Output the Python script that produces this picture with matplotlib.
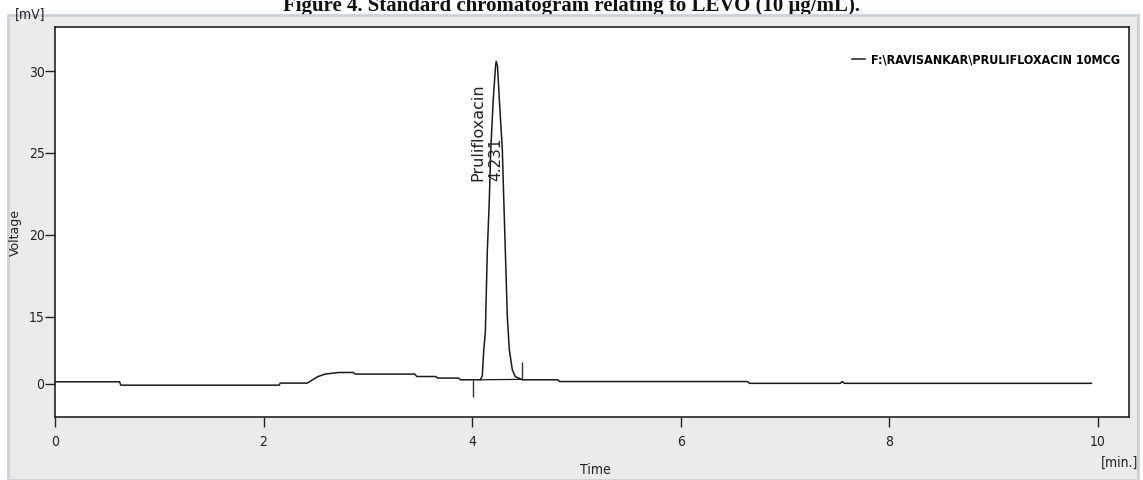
import numpy as np
import matplotlib
matplotlib.use('Agg')
import matplotlib.pyplot as plt
from matplotlib.patches import Rectangle

# detector trace: retention time (min) vs. signal (mV)
time_min = [0.00, 0.62, 0.63, 2.15, 2.16, 2.42, 2.47, 2.52, 2.59, 2.72,
            2.86, 2.88, 3.45, 3.47, 3.65, 3.67, 3.87, 3.89,
            4.079, 4.098, 4.112, 4.127, 4.146, 4.165, 4.179, 4.203, 4.225,
            4.231,
            4.244, 4.261, 4.290, 4.304, 4.319, 4.338, 4.357, 4.386, 4.415,
            4.463, 4.48, 4.82, 4.84, 6.64, 6.66, 7.53, 7.55, 7.57, 9.94]
signal_mv = [0.45, 0.45, -0.30, -0.30, 0.16, 0.16, 0.90, 1.60, 2.17, 2.53,
             2.53, 2.17, 2.17, 1.63, 1.63, 1.28, 1.28, 0.90,
             0.90, 1.8, 7.6, 11.4, 19.0, 22.1, 25.2, 28.3, 30.3,
             30.6,
             30.3, 28.3, 25.2, 22.1, 19.0, 15.0, 7.6, 3.1, 1.6,
             1.1, 0.90, 0.90, 0.51, 0.51, 0.11, 0.11, 0.50, 0.11, 0.11]

peak_name = 'Prulifloxacin'
peak_rt = 4.231
peak_start, peak_end = 4.01, 4.48
peak_base = [0.90, 1.00]

legend_label = 'F:\\RAVISANKAR\\PRULIFLOXACIN 10MCG'
y_ticks = [0, 15, 20, 25, 30]
x_ticks = [0, 2, 4, 6, 8, 10]

narrow = ['Liberation Sans Narrow', 'DejaVu Sans']


# the software's voltage axis squeezes everything under 15 mV
def fwd(v):
    v = np.asarray(v, dtype=float)
    return np.where(v < 15, v * 0.274, 4.11 + (v - 15))


def inv(u):
    u = np.asarray(u, dtype=float)
    return np.where(u < 4.11, u / 0.274, u - 4.11 + 15)


fig = plt.figure(figsize=(11.43, 4.8), dpi=100)
fig.patches.append(Rectangle((8 / 1143, 0), 1130 / 1143, 465 / 480,
                             transform=fig.transFigure, facecolor='#ebebeb',
                             edgecolor='#c9d2de', lw=2, zorder=-5))

fig.text(0.5, 1 - 11 / 480,
         'Figure 4. Standard chromatogram relating to LEVO (10 \u03bcg/mL).',
         ha='center', va='baseline', fontsize=15, fontweight='bold',
         family='Liberation Serif', color='#111111', zorder=-10)

ax = fig.add_axes([55 / 1143, 63 / 480, 1074 / 1143, 390 / 480])
ax.set_zorder(2)
ax.set_yscale('function', functions=(fwd, inv))
ax.set_facecolor('white')

ax.plot(time_min, signal_mv, color='#1a1a1a', lw=1.1, label=legend_label)
ax.plot([4.079, peak_end], peak_base, color='#1a1a1a', lw=0.9)
ax.vlines(peak_start, -2.9, 0.9, color='#333333', lw=1.0)
ax.vlines(peak_end, 0.9, 4.9, color='#333333', lw=1.0)

ax.text(4.06, 23.3, peak_name, rotation=90, ha='center', va='bottom',
        fontsize=11.5, family='DejaVu Sans', color='#222222')
ax.text(4.228, 23.3, '%.3f' % peak_rt, rotation=90, ha='center', va='bottom',
        fontsize=11, family='DejaVu Sans', color='#222222')

ax.set_xlim(0, 10.3)
ax.set_ylim(-7.4, 32.7)
ax.set_xticks(x_ticks)
ax.set_yticks(y_ticks)
ax.tick_params(direction='out', length=7, width=1.0, color='#222222',
               labelsize=10, labelcolor='#222222', pad=6)
ax.tick_params(axis='y', pad=0.5)
for lab in ax.get_xticklabels() + ax.get_yticklabels():
    lab.set_family(narrow)
    lab.set_stretch('condensed')
for s in ax.spines.values():
    s.set_color('#222222')
    s.set_linewidth(1.2)

fig.text(30 / 1143, 1 - 15 / 480, '[mV]', ha='center', va='center',
         fontsize=10, family=narrow, stretch='condensed', color='#222222')
fig.text(15 / 1143, 1 - 232 / 480, 'Voltage', ha='center', va='center',
         rotation=90, fontsize=9, family='DejaVu Sans', color='#222222')
fig.text(595 / 1143, 1 - 470 / 480, 'Time', ha='center', va='center',
         fontsize=10, family=narrow, stretch='condensed', color='#222222')
fig.text(1120 / 1143, 1 - 463 / 480, '[min.]', ha='center', va='center',
         fontsize=10, family=narrow, stretch='condensed', color='#222222')

ax.legend(loc='upper right', bbox_to_anchor=(1.0, 0.955), frameon=False,
          handlelength=1.0, handletextpad=0.5, borderaxespad=0.3,
          prop={'family': narrow, 'weight': 'bold', 'size': 9,
                'stretch': 'condensed'})

fig.savefig('out.png', dpi=100)
